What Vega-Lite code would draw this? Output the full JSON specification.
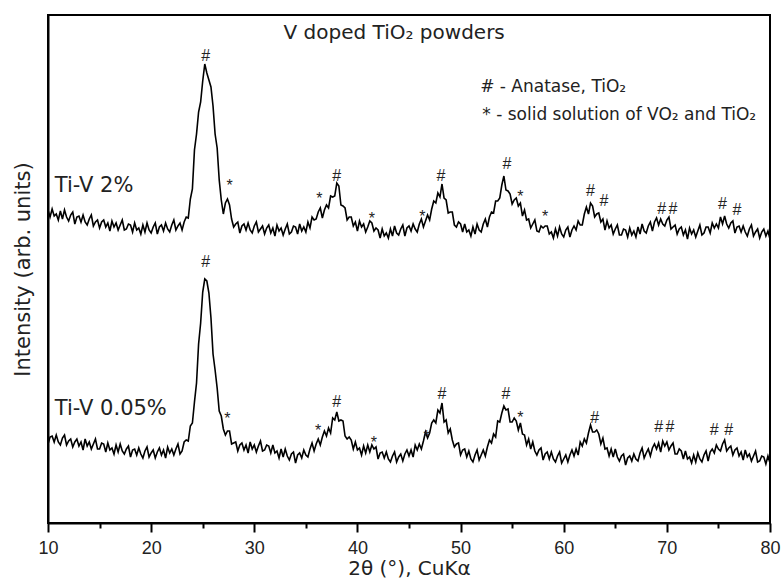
{
"$schema": "https://vega.github.io/schema/vega-lite/v6.json",
"width": 722, "height": 508,
"autosize": {"type": "none"},
"padding": {"left": 48, "top": 15, "right": 12, "bottom": 62},
"background": "white",
"config": {"font": "DejaVu Sans", "view": {"stroke": "black", "strokeWidth": 2}},
"datasets": {
"xrd": [
{"t":10.0,"a":313,"b":79},{"t":10.2,"a":306,"b":86},{"t":10.4,"a":314,"b":87},{"t":10.6,"a":307,"b":81},{"t":10.8,"a":309,"b":88},
{"t":11.0,"a":303,"b":81},{"t":11.2,"a":312,"b":78},{"t":11.4,"a":304,"b":85},{"t":11.6,"a":313,"b":88},{"t":11.8,"a":306,"b":78},
{"t":12.0,"a":302,"b":82},{"t":12.2,"a":308,"b":84},{"t":12.4,"a":311,"b":76},{"t":12.6,"a":299,"b":81},{"t":12.8,"a":306,"b":84},
{"t":13.0,"a":307,"b":77},{"t":13.2,"a":301,"b":81},{"t":13.4,"a":308,"b":73},{"t":13.6,"a":301,"b":84},{"t":13.8,"a":298,"b":77},
{"t":14.0,"a":304,"b":81},{"t":14.2,"a":308,"b":74},{"t":14.4,"a":297,"b":79},{"t":14.6,"a":301,"b":84},{"t":14.8,"a":303,"b":74},
{"t":15.0,"a":295,"b":74},{"t":15.2,"a":301,"b":80},{"t":15.4,"a":303,"b":79},{"t":15.6,"a":296,"b":71},{"t":15.8,"a":300,"b":80},
{"t":16.0,"a":292,"b":73},{"t":16.2,"a":302,"b":75},{"t":16.4,"a":296,"b":69},{"t":16.6,"a":300,"b":78},{"t":16.8,"a":293,"b":71},
{"t":17.0,"a":298,"b":79},{"t":17.2,"a":303,"b":72},{"t":17.4,"a":293,"b":69},{"t":17.6,"a":294,"b":74},{"t":17.8,"a":299,"b":77},
{"t":18.0,"a":298,"b":66},{"t":18.2,"a":291,"b":73},{"t":18.4,"a":300,"b":74},{"t":18.6,"a":293,"b":68},{"t":18.8,"a":295,"b":75},
{"t":19.0,"a":289,"b":69},{"t":19.2,"a":298,"b":65},{"t":19.4,"a":291,"b":72},{"t":19.6,"a":300,"b":76},{"t":19.8,"a":293,"b":66},
{"t":20.0,"a":290,"b":70},{"t":20.2,"a":296,"b":73},{"t":20.4,"a":300,"b":65},{"t":20.6,"a":289,"b":71},{"t":20.8,"a":296,"b":75},
{"t":21.0,"a":298,"b":68},{"t":21.2,"a":292,"b":73},{"t":21.4,"a":300,"b":65},{"t":21.6,"a":294,"b":76},{"t":21.8,"a":291,"b":70},
{"t":22.0,"a":298,"b":74},{"t":22.2,"a":303,"b":68},{"t":22.4,"a":293,"b":74},{"t":22.6,"a":297,"b":79},{"t":22.8,"a":300,"b":69},
{"t":23.0,"a":293,"b":72},{"t":23.2,"a":301,"b":81},{"t":23.4,"a":306,"b":83},{"t":23.6,"a":305,"b":82},{"t":23.8,"a":324,"b":97},
{"t":24.0,"a":334,"b":100},{"t":24.2,"a":373,"b":121},{"t":24.4,"a":389,"b":140},{"t":24.6,"a":411,"b":179},{"t":24.8,"a":421,"b":200},
{"t":25.0,"a":442,"b":231},{"t":25.2,"a":459,"b":244},{"t":25.4,"a":450,"b":242},{"t":25.6,"a":443,"b":230},{"t":25.8,"a":436,"b":205},
{"t":26.0,"a":417,"b":169},{"t":26.2,"a":389,"b":153},{"t":26.4,"a":375,"b":135},{"t":26.6,"a":343,"b":112},{"t":26.8,"a":323,"b":107},
{"t":27.0,"a":309,"b":94},{"t":27.2,"a":320,"b":88},{"t":27.4,"a":324,"b":92},{"t":27.6,"a":318,"b":92},{"t":27.8,"a":304,"b":79},
{"t":28.0,"a":296,"b":80},{"t":28.2,"a":299,"b":81},{"t":28.4,"a":301,"b":72},{"t":28.6,"a":290,"b":78},{"t":28.8,"a":297,"b":80},
{"t":29.0,"a":299,"b":73},{"t":29.2,"a":293,"b":78},{"t":29.4,"a":300,"b":70},{"t":29.6,"a":293,"b":81},{"t":29.8,"a":290,"b":74},
{"t":30.0,"a":297,"b":78},{"t":30.2,"a":301,"b":71},{"t":30.4,"a":291,"b":77},{"t":30.6,"a":294,"b":82},{"t":30.8,"a":297,"b":72},
{"t":31.0,"a":289,"b":73},{"t":31.2,"a":295,"b":78},{"t":31.4,"a":298,"b":77},{"t":31.6,"a":290,"b":70},{"t":31.8,"a":295,"b":78},
{"t":32.0,"a":287,"b":70},{"t":32.2,"a":298,"b":72},{"t":32.4,"a":292,"b":65},{"t":32.6,"a":295,"b":74},{"t":32.8,"a":288,"b":66},
{"t":33.0,"a":294,"b":74},{"t":33.2,"a":299,"b":67},{"t":33.4,"a":289,"b":63},{"t":33.6,"a":291,"b":69},{"t":33.8,"a":297,"b":71},
{"t":34.0,"a":296,"b":60},{"t":34.2,"a":289,"b":68},{"t":34.4,"a":299,"b":70},{"t":34.6,"a":292,"b":65},{"t":34.8,"a":296,"b":73},
{"t":35.0,"a":291,"b":68},{"t":35.2,"a":301,"b":66},{"t":35.4,"a":295,"b":74},{"t":35.6,"a":306,"b":80},{"t":35.8,"a":303,"b":72},
{"t":36.0,"a":304,"b":79},{"t":36.2,"a":311,"b":84},{"t":36.4,"a":315,"b":78},{"t":36.6,"a":305,"b":86},{"t":36.8,"a":313,"b":92},
{"t":37.0,"a":318,"b":87},{"t":37.2,"a":315,"b":95},{"t":37.4,"a":327,"b":90},{"t":37.6,"a":326,"b":105},{"t":37.8,"a":327,"b":103},
{"t":38.0,"a":340,"b":111},{"t":38.2,"a":337,"b":102},{"t":38.4,"a":318,"b":103},{"t":38.6,"a":317,"b":102},{"t":38.8,"a":315,"b":87},
{"t":39.0,"a":303,"b":84},{"t":39.2,"a":306,"b":86},{"t":39.4,"a":306,"b":83},{"t":39.6,"a":297,"b":74},{"t":39.8,"a":301,"b":81},
{"t":40.0,"a":292,"b":73},{"t":40.2,"a":302,"b":75},{"t":40.4,"a":296,"b":68},{"t":40.6,"a":299,"b":77},{"t":40.8,"a":291,"b":70},
{"t":41.0,"a":296,"b":78},{"t":41.2,"a":302,"b":71},{"t":41.4,"a":300,"b":78},{"t":41.6,"a":292,"b":74},{"t":41.8,"a":295,"b":76},
{"t":42.0,"a":293,"b":64},{"t":42.2,"a":285,"b":70},{"t":42.4,"a":294,"b":71},{"t":42.6,"a":287,"b":65},{"t":42.8,"a":290,"b":71},
{"t":43.0,"a":285,"b":64},{"t":43.2,"a":294,"b":61},{"t":43.4,"a":287,"b":67},{"t":43.6,"a":297,"b":71},{"t":43.8,"a":290,"b":61},
{"t":44.0,"a":288,"b":66},{"t":44.2,"a":294,"b":69},{"t":44.4,"a":298,"b":62},{"t":44.6,"a":287,"b":69},{"t":44.8,"a":295,"b":73},
{"t":45.0,"a":297,"b":67},{"t":45.2,"a":292,"b":73},{"t":45.4,"a":299,"b":66},{"t":45.6,"a":294,"b":78},{"t":45.8,"a":291,"b":73},
{"t":46.0,"a":299,"b":79},{"t":46.2,"a":304,"b":74},{"t":46.4,"a":296,"b":82},{"t":46.6,"a":302,"b":91},{"t":46.8,"a":308,"b":85},
{"t":47.0,"a":303,"b":90},{"t":47.2,"a":314,"b":100},{"t":47.4,"a":322,"b":103},{"t":47.6,"a":320,"b":100},{"t":47.8,"a":330,"b":113},
{"t":48.0,"a":326,"b":110},{"t":48.2,"a":339,"b":120},{"t":48.4,"a":325,"b":101},{"t":48.6,"a":323,"b":103},{"t":48.8,"a":310,"b":90},
{"t":49.0,"a":311,"b":94},{"t":49.2,"a":311,"b":83},{"t":49.4,"a":298,"b":76},{"t":49.6,"a":296,"b":79},{"t":49.8,"a":301,"b":80},
{"t":50.0,"a":299,"b":68},{"t":50.2,"a":291,"b":73},{"t":50.4,"a":299,"b":74},{"t":50.6,"a":291,"b":66},{"t":50.8,"a":293,"b":72},
{"t":51.0,"a":287,"b":64},{"t":51.2,"a":296,"b":61},{"t":51.4,"a":289,"b":68},{"t":51.6,"a":299,"b":73},{"t":51.8,"a":293,"b":63},
{"t":52.0,"a":291,"b":68},{"t":52.2,"a":299,"b":73},{"t":52.4,"a":304,"b":67},{"t":52.6,"a":296,"b":76},{"t":52.8,"a":306,"b":83},
{"t":53.0,"a":311,"b":80},{"t":53.2,"a":310,"b":89},{"t":53.4,"a":322,"b":86},{"t":53.6,"a":322,"b":102},{"t":53.8,"a":325,"b":101},
{"t":54.0,"a":338,"b":110},{"t":54.2,"a":347,"b":117},{"t":54.4,"a":333,"b":113},{"t":54.6,"a":332,"b":114},{"t":54.8,"a":329,"b":101},
{"t":55.0,"a":319,"b":101},{"t":55.2,"a":323,"b":105},{"t":55.4,"a":325,"b":102},{"t":55.6,"a":317,"b":93},{"t":55.8,"a":320,"b":100},
{"t":56.0,"a":307,"b":89},{"t":56.2,"a":313,"b":88},{"t":56.4,"a":303,"b":78},{"t":56.6,"a":304,"b":84},{"t":56.8,"a":295,"b":74},
{"t":57.0,"a":299,"b":81},{"t":57.2,"a":303,"b":72},{"t":57.4,"a":292,"b":68},{"t":57.6,"a":291,"b":73},{"t":57.8,"a":297,"b":75},
{"t":58.0,"a":295,"b":63},{"t":58.2,"a":297,"b":69},{"t":58.4,"a":297,"b":71},{"t":58.6,"a":289,"b":64},{"t":58.8,"a":291,"b":71},
{"t":59.0,"a":285,"b":64},{"t":59.2,"a":294,"b":61},{"t":59.4,"a":287,"b":67},{"t":59.6,"a":296,"b":71},{"t":59.8,"a":289,"b":60},
{"t":60.0,"a":286,"b":64},{"t":60.2,"a":293,"b":68},{"t":60.4,"a":296,"b":61},{"t":60.6,"a":286,"b":68},{"t":60.8,"a":293,"b":73},
{"t":61.0,"a":297,"b":67},{"t":61.2,"a":293,"b":74},{"t":61.4,"a":302,"b":68},{"t":61.6,"a":298,"b":81},{"t":61.8,"a":298,"b":77},
{"t":62.0,"a":309,"b":84},{"t":62.2,"a":316,"b":80},{"t":62.4,"a":309,"b":90},{"t":62.6,"a":320,"b":98},{"t":62.8,"a":317,"b":91},
{"t":63.0,"a":306,"b":91},{"t":63.2,"a":309,"b":93},{"t":63.4,"a":310,"b":89},{"t":63.6,"a":301,"b":79},{"t":63.8,"a":304,"b":85},
{"t":64.0,"a":293,"b":74},{"t":64.2,"a":302,"b":75},{"t":64.4,"a":295,"b":67},{"t":64.6,"a":298,"b":74},{"t":64.8,"a":289,"b":66},
{"t":65.0,"a":294,"b":74},{"t":65.2,"a":298,"b":66},{"t":65.4,"a":288,"b":62},{"t":65.6,"a":288,"b":67},{"t":65.8,"a":294,"b":69},
{"t":66.0,"a":293,"b":58},{"t":66.2,"a":286,"b":65},{"t":66.4,"a":295,"b":67},{"t":66.6,"a":288,"b":62},{"t":66.8,"a":292,"b":69},
{"t":67.0,"a":286,"b":64},{"t":67.2,"a":296,"b":62},{"t":67.4,"a":289,"b":70},{"t":67.6,"a":299,"b":75},{"t":67.8,"a":292,"b":65},
{"t":68.0,"a":290,"b":70},{"t":68.2,"a":297,"b":74},{"t":68.4,"a":301,"b":67},{"t":68.6,"a":292,"b":75},{"t":68.8,"a":301,"b":79},
{"t":69.0,"a":305,"b":74},{"t":69.2,"a":298,"b":80},{"t":69.4,"a":304,"b":71},{"t":69.6,"a":299,"b":82},{"t":69.8,"a":297,"b":77},
{"t":70.0,"a":303,"b":81},{"t":70.2,"a":306,"b":73},{"t":70.4,"a":294,"b":77},{"t":70.6,"a":296,"b":80},{"t":70.8,"a":298,"b":69},
{"t":71.0,"a":289,"b":69},{"t":71.2,"a":294,"b":74},{"t":71.4,"a":296,"b":72},{"t":71.6,"a":288,"b":64},{"t":71.8,"a":293,"b":72},
{"t":72.0,"a":284,"b":64},{"t":72.2,"a":295,"b":66},{"t":72.4,"a":289,"b":60},{"t":72.6,"a":293,"b":68},{"t":72.8,"a":286,"b":61},
{"t":73.0,"a":292,"b":70},{"t":73.2,"a":298,"b":64},{"t":73.4,"a":288,"b":61},{"t":73.6,"a":290,"b":68},{"t":73.8,"a":296,"b":72},
{"t":74.0,"a":296,"b":62},{"t":74.2,"a":290,"b":71},{"t":74.4,"a":300,"b":74},{"t":74.6,"a":295,"b":70},{"t":74.8,"a":299,"b":78},
{"t":75.0,"a":295,"b":74},{"t":75.2,"a":306,"b":72},{"t":75.4,"a":299,"b":79},{"t":75.6,"a":307,"b":83},{"t":75.8,"a":299,"b":72},
{"t":76.0,"a":295,"b":75},{"t":76.2,"a":300,"b":77},{"t":76.4,"a":302,"b":68},{"t":76.6,"a":290,"b":73},{"t":76.8,"a":296,"b":75},
{"t":77.0,"a":297,"b":67},{"t":77.2,"a":291,"b":71},{"t":77.4,"a":297,"b":63},{"t":77.6,"a":291,"b":73},{"t":77.8,"a":287,"b":66},
{"t":78.0,"a":294,"b":69},{"t":78.2,"a":298,"b":62},{"t":78.4,"a":287,"b":67},{"t":78.6,"a":291,"b":72},{"t":78.8,"a":294,"b":61},
{"t":79.0,"a":285,"b":62},{"t":79.2,"a":291,"b":67},{"t":79.4,"a":294,"b":66},{"t":79.6,"a":287,"b":59},{"t":79.8,"a":292,"b":67},
{"t":80.0,"a":284,"b":60}
],
"peaks": [
{"t":25.3,"v":462,"s":"#"},{"t":27.6,"v":332,"s":"*"},{"t":36.3,"v":319,"s":"*"},{"t":38.0,"v":342,"s":"#"},
{"t":41.4,"v":299,"s":"*"},{"t":46.3,"v":301,"s":"*"},{"t":48.1,"v":342,"s":"#"},{"t":54.5,"v":354,"s":"#"},
{"t":55.8,"v":321,"s":"*"},{"t":58.2,"v":301,"s":"*"},{"t":62.6,"v":327,"s":"#"},{"t":63.9,"v":317,"s":"#"},
{"t":69.5,"v":309,"s":"#"},{"t":70.6,"v":309,"s":"#"},{"t":75.4,"v":314,"s":"#"},{"t":76.8,"v":308,"s":"#"},
{"t":25.3,"v":256,"s":"#"},{"t":27.4,"v":99,"s":"*"},{"t":36.2,"v":87,"s":"*"},{"t":38.0,"v":116,"s":"#"},
{"t":41.6,"v":75,"s":"*"},{"t":46.7,"v":81,"s":"*"},{"t":48.2,"v":124,"s":"#"},{"t":54.4,"v":124,"s":"#"},
{"t":55.8,"v":100,"s":"*"},{"t":63.0,"v":100,"s":"#"},{"t":69.2,"v":91,"s":"#"},{"t":70.3,"v":91,"s":"#"},
{"t":74.6,"v":88,"s":"#"},{"t":76.0,"v":88,"s":"#"}
],
"samples": [
{"t":10.65,"v":337,"s":"Ti-V 2%"},{"t":10.65,"v":114,"s":"Ti-V 0.05%"}
],
"heading": [
{"t":43.56,"v":490,"s":"V doped TiO₂ powders"}
],
"key": [
{"t":51.9,"v":436,"s":"# - Anatase, TiO₂"},{"t":52.1,"v":408,"s":"* - solid solution of VO₂ and TiO₂"}
]
},
"encoding": {
"x": {"field": "t", "type": "quantitative", "title": "2θ (°), CuKα",
 "scale": {"domain": [10, 80], "nice": false, "zero": false},
 "axis": {"orient": "bottom", "values": [10,20,30,40,50,60,70,80],
  "tickSize": 9, "tickColor": "black", "tickWidth": 2, "domainColor": "black", "domainWidth": 2,
  "labelFont": "Liberation Sans", "labelFontSize": 18, "labelColor": "#222", "labelPadding": 7, "labelFlush": false, "labelOverlap": false,
  "titleFontSize": 20, "titleFontWeight": "normal", "titleColor": "#222", "titlePadding": 1, "grid": false}},
"y": {"field": "v", "type": "quantitative", "title": "Intensity (arb. units)",
 "scale": {"domain": [0, 508], "nice": false, "zero": false},
 "axis": {"ticks": false, "labels": false, "grid": false, "domainColor": "black", "domainWidth": 2,
  "titleFontSize": 21, "titleFontWeight": "normal", "titleColor": "#222", "titlePadding": 15}}
},
"layer": [
{"layer": [
{"data": {"name": "xrd"}, "transform": [{"fold": ["a", "b"], "as": ["series", "v"]}],
 "mark": {"type": "line", "color": "black", "strokeWidth": 1.6},
 "encoding": {"detail": {"field": "series", "type": "nominal"}}},
{"data": {"name": "peaks"}, "mark": {"type": "text", "font": "Liberation Sans", "fontSize": 16, "align": "center", "baseline": "alphabetic", "color": "#222"},
 "encoding": {"text": {"field": "s", "type": "nominal"}}},
{"data": {"name": "samples"}, "mark": {"type": "text", "fontSize": 21, "align": "left", "baseline": "middle", "color": "#222"},
 "encoding": {"text": {"field": "s", "type": "nominal"}}},
{"data": {"name": "heading"}, "mark": {"type": "text", "fontSize": 20, "align": "center", "baseline": "middle", "color": "#222"},
 "encoding": {"text": {"field": "s", "type": "nominal"}}}
]},
{"data": {"name": "key"}, "mark": {"type": "text", "fontSize": 17, "align": "left", "baseline": "middle", "color": "#222"},
 "encoding": {"text": {"field": "s", "type": "nominal"},
  "x": {"field": "t", "type": "quantitative", "title": null,
   "scale": {"domain": [10, 80], "nice": false, "zero": false},
   "axis": {"orient": "bottom", "values": [15,25,35,45,55,65,75], "labels": false, "domain": false, "tickSize": 5, "tickWidth": 2, "tickColor": "black", "grid": false, "title": null}}}}
],
"resolve": {"axis": {"x": "independent"}}
}
